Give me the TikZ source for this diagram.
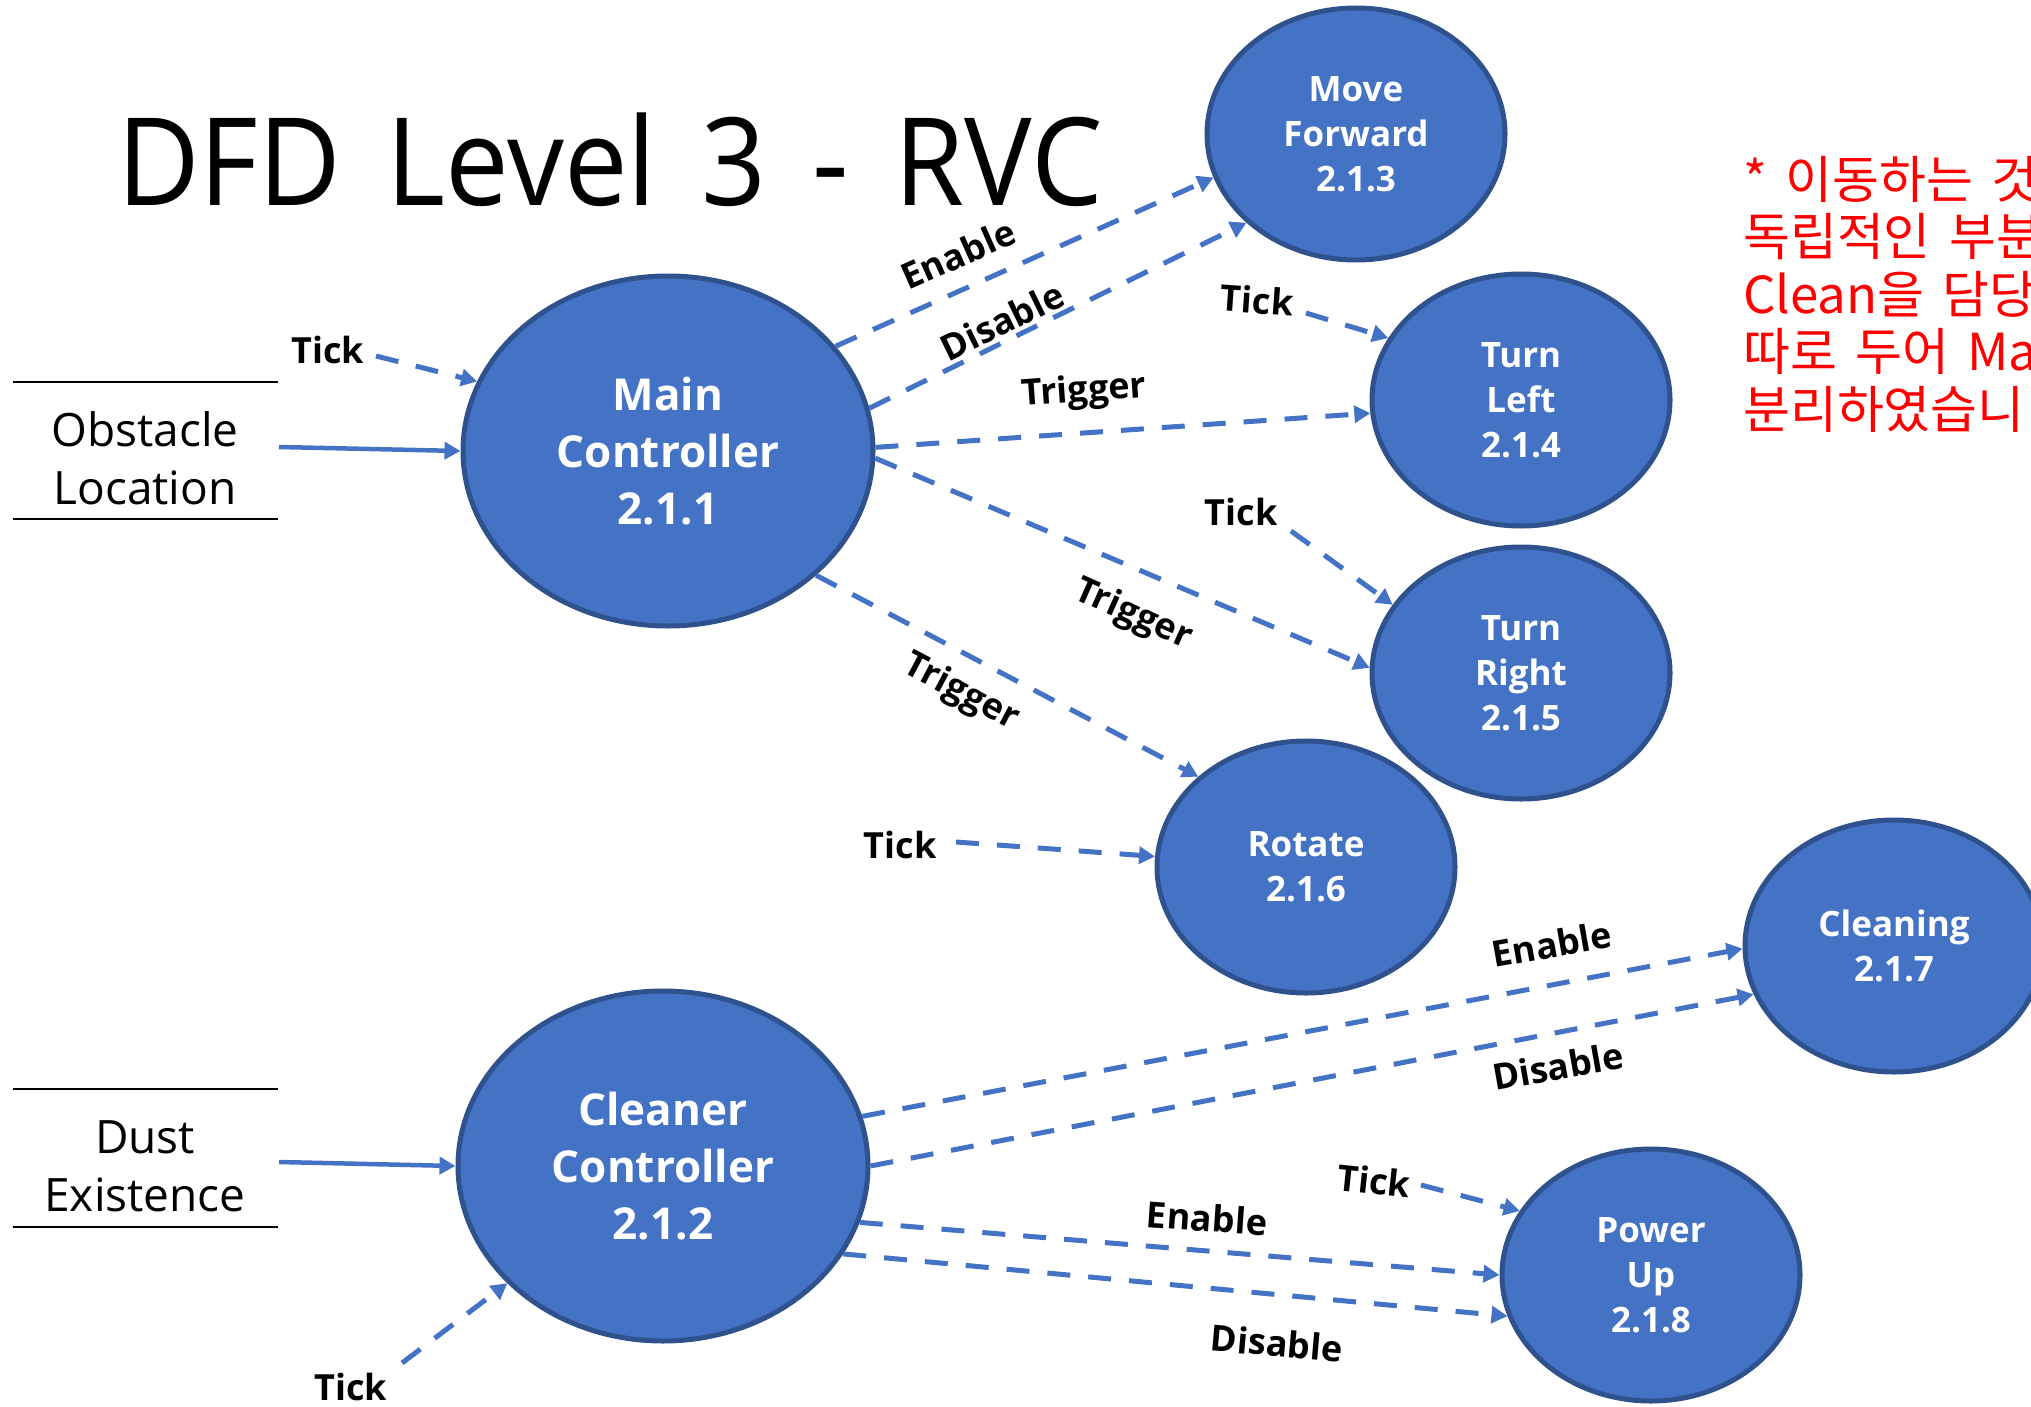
\documentclass[tikz,border=0pt]{standalone}
\usepackage{fontspec}
\setmainfont{Open Sans}
\newfontfamily\krfont[WordSpace=1.6]{Noto Sans CJK KR}
\newfontfamily\titlefont[FakeStretch=0.93,WordSpace=1.55]{Open Sans}
\usetikzlibrary{arrows.meta,shapes.geometric}
\definecolor{dfdblue}{HTML}{4472C4}
\definecolor{dfdedge}{HTML}{2F528F}
\definecolor{krred}{HTML}{FF0000}
\begin{document}
\begin{tikzpicture}[x=1pt,y=-1pt,
  proc/.style={ellipse, fill=dfdblue, draw=dfdedge, line width=5pt, inner sep=0pt,
    text=white, align=center, minimum width=298pt, minimum height=252pt,
    font=\bfseries\fontsize{35}{45}\selectfont},
  bigproc/.style={proc, minimum width=410pt, minimum height=350pt,
    font=\bfseries\fontsize{44}{57}\selectfont},
  flow/.style={draw=dfdblue, line width=5pt, dash pattern=on 23pt off 18pt,
    -{Triangle[length=16pt,width=17pt]}},
  inflow/.style={draw=dfdblue, line width=4.5pt, -{Triangle[length=16pt,width=17pt]}},
  lbl/.style={font=\bfseries\fontsize{36}{40}\selectfont, text=black, inner sep=0pt},
  store/.style={align=center, font=\fontsize{46}{58}\selectfont, inner sep=0pt},
  storeline/.style={draw=black, line width=2.5pt},
]
\useasboundingbox (0,0) rectangle (2031,1407);
\clip (0,0) rectangle (2031,1407);

% title
\node[anchor=base west, inner sep=0pt, font=\titlefont\fontsize{122}{130}\selectfont] (title) at (117,205) {DFD Level 3 - RVC};

% note
\node[anchor=north west, align=left, inner sep=0pt, text=krred,
  font=\krfont\fontsize{51}{57.5}\selectfont] (note) at (1743,156)
  {* 이동하는 것\\독립적인 부분\\Clean을 담당하\\따로 두어 Ma\\분리하였습니};

% processes
\node[bigproc] (main) at (668,451) {Main\\Controller\\2.1.1};
\node[bigproc] (cc) at (663,1166) {Cleaner\\Controller\\2.1.2};
\node[proc] (mf) at (1356,134) {Move\\Forward\\2.1.3};
\node[proc] (tl) at (1521,400) {Turn\\Left\\2.1.4};
\node[proc] (tr) at (1521,673) {Turn\\Right\\2.1.5};
\node[proc] (rot) at (1306,867) {Rotate\\2.1.6};
\node[proc] (cl) at (1894,946) {Cleaning\\2.1.7};
\node[proc] (pu) at (1651,1275) {Power\\Up\\2.1.8};

% data stores
\node[store] (obst) at (145,458) {Obstacle\\Location};
\coordinate (obstA) at (13,382); \coordinate (obstB) at (278,382);
\coordinate (obstC) at (13,519); \coordinate (obstD) at (278,519);
\draw[storeline] (obstA) -- (obstB);
\draw[storeline] (obstC) -- (obstD);
\node[store] (dust) at (145,1166) {Dust\\Existence};
\coordinate (dustA) at (13,1089); \coordinate (dustB) at (278,1089);
\coordinate (dustC) at (13,1227); \coordinate (dustD) at (278,1227);
\draw[storeline] (dustA) -- (dustB);
\draw[storeline] (dustC) -- (dustD);

% inputs
\coordinate (obstout) at (279,447);
\draw[inflow] (obstout) -- (main.180);
\coordinate (dustout) at (279,1162);
\draw[inflow] (dustout) -- (cc.180);

% ticks
\node[lbl] (tk1) at (328,350) {Tick};
\coordinate (tk1s) at (376,356);
\draw[flow] (tk1s) -- (main.160);
\node[lbl, rotate=-4] (tk2) at (1257,300) {Tick};
\coordinate (tk2s) at (1306,313);
\draw[flow] (tk2s) -- (tl.155);
\node[lbl] (tk3) at (1241,512) {Tick};
\coordinate (tk3s) at (1291,531);
\draw[flow] (tk3s) -- (tr.152);
\node[lbl] (tk4) at (900,845) {Tick};
\coordinate (tk4s) at (956,842);
\draw[flow] (tk4s) -- (rot.176);
\node[lbl] (tk5) at (351,1387) {Tick};
\coordinate (tk5s) at (402,1363);
\draw[flow] (tk5s) -- (cc.217);
\node[lbl, rotate=-6] (tk6) at (1374,1181) {Tick};
\coordinate (tk6s) at (1421,1185);
\draw[flow] (tk6s) -- (pu.154);

% main controller flows
\draw[flow] (main.32) -- (mf.197);
\node[lbl, rotate=24] (l1) at (958,254) {Enable};
\draw[flow] (main.12) -- (mf.219);
\node[lbl, rotate=26] (l2) at (1002,321) {Disable};
\draw[flow] (main.1) -- (tl.185);
\node[lbl, rotate=4] (l3) at (1084,392) {Trigger};
\draw[flow] (main.-2) -- (tr.178);
\node[lbl, rotate=-24] (l4) at (1133,615) {Trigger};
\draw[flow] (main.-40) -- (rot.140);
\node[lbl, rotate=-28] (l5) at (961,693) {Trigger};

% cleaner controller flows
\draw[flow] (cc.14) -- (cl.181);
\node[lbl, rotate=10] (l6) at (1552,944) {Enable};
\draw[flow] (cc.0) -- (cl.199);
\node[lbl, rotate=10] (l7) at (1558,1066) {Disable};
\draw[flow] (cc.-16) -- (pu.180);
\node[lbl, rotate=-4] (l8) at (1207,1218) {Enable};
\draw[flow] (cc.-26) -- (pu.196);
\node[lbl, rotate=-5] (l9) at (1277,1343) {Disable};
\end{tikzpicture}
\end{document}
